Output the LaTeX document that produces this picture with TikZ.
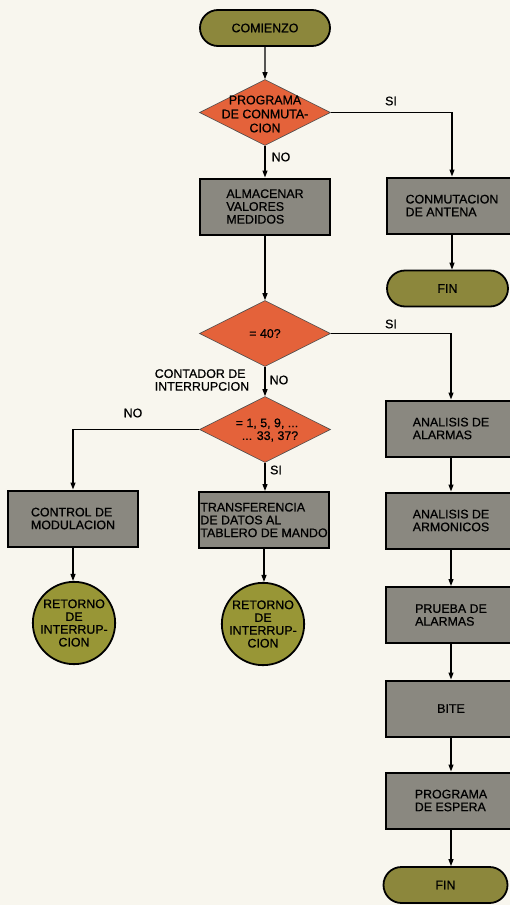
\documentclass[tikz,border=0pt]{standalone}
\usepackage{fontspec}
\setmainfont[FakeBold=0.7]{Liberation Sans}
\usetikzlibrary{arrows.meta,shapes.geometric,shapes.misc}

\definecolor{paper}{RGB}{248,246,238}
\definecolor{boxgray}{RGB}{138,136,128}
\definecolor{decorange}{RGB}{228,98,58}
\definecolor{termolive}{RGB}{140,135,60}
\definecolor{retolive}{RGB}{152,150,54}

\tikzset{
  txt/.style={font=\fontsize{12.4}{12.8}\selectfont, inner sep=0pt},
  procbox/.style={txt, rectangle, draw=black, line width=2pt, fill=boxgray,
    minimum width=130pt, minimum height=56pt, align=left},
  terminal/.style={txt, rounded rectangle, draw=black, line width=1.8pt, fill=termolive,
    minimum height=36pt, align=center},
  decision/.style={diamond, draw=black!70, line width=0.6pt, fill=decorange,
    minimum width=131pt, minimum height=66pt, inner sep=0pt},
  retcircle/.style={txt, circle, draw=black, line width=1.8pt, fill=retolive,
    minimum size=74pt, align=center},
  flow/.style={line width=1.2pt, -{Triangle[length=7pt,width=5pt]}},
  lbl/.style={txt}
}

\begin{document}
\begin{tikzpicture}[x=1pt,y=-1pt]
  \fill[paper] (0,0) rectangle (510,905);
  \useasboundingbox (0,0) rectangle (510,905);
  \clip (0,0) rectangle (510,905);

  % main column
  \node[terminal, minimum width=130pt] (start) at (265,28) {COMIENZO};
  \node[decision] (d1) at (265,112.5) {};
  \node[txt, align=center, font=\fontsize{12.4}{14}\selectfont] at (265,114) {PROGRAMA\\DE CONMUTA-\\CION};
  \node[procbox] (store) at (265,206.5) {ALMACENAR\\VALORES\\MEDIDOS};
  \node[decision] (d2) at (265,333.5) {};
  \node[txt] at (265,333.5) {= 40?};
  \node[decision] (d3) at (265,429.5) {};
  \node[txt, align=right] at (267,430) {= 1, 5, 9, ...\\... 33, 37?};
  \node[procbox] (xfer) at (264,520) {TRANSFERENCIA\\DE DATOS AL\\TABLERO DE MANDO};
  \node[retcircle] (ret2) at (263,624) {RETORNO\\DE\\INTERRUP-\\CION};

  % left branch
  \node[procbox] (modctl) at (73,518.5) {CONTROL DE\\MODULACION};
  \node[retcircle] (ret1) at (74,623) {RETORNO\\DE\\INTERRUP-\\CION};

  % antenna switching branch
  \node[procbox] (antsw) at (452,205.5) {CONMUTACION\\DE ANTENA};
  \node[terminal, minimum width=121pt] (end1) at (447.5,288.5) {FIN};

  % alarm / test branch
  \node[procbox] (alarm) at (451,428.5) {ANALISIS DE\\ALARMAS};
  \node[procbox] (harm) at (451,520.5) {ANALISIS DE\\ARMONICOS};
  \node[procbox] (test) at (451,615) {PRUEBA DE\\ALARMAS};
  \node[procbox] (bite) at (451,708.5) {BITE};
  \node[procbox] (wait) at (451,800.5) {PROGRAMA\\DE ESPERA};
  \node[terminal, minimum width=124pt] (end2) at (445.5,885) {FIN};

  % connectors
  \draw[flow] (start) -- (d1);
  \draw[flow] (d1) -- (store);
  \draw[flow] (d1.east) -| (antsw.north);
  \draw[flow] (antsw.south) -- (antsw.south |- end1.north);
  \draw[flow] (store) -- (d2);
  \draw[flow] (d2.east) -| (alarm.north);
  \draw[flow] (d2) -- (d3);
  \draw[flow] (d3.west) -| (modctl.north);
  \draw[flow] (d3.south) -- (d3.south |- xfer.north);
  \draw[flow] (xfer.south) -- (xfer.south |- ret2.north);
  \draw[flow] (modctl.south) -- (modctl.south |- ret1.north);
  \draw[flow] (alarm) -- (harm);
  \draw[flow] (harm) -- (test);
  \draw[flow] (test) -- (bite);
  \draw[flow] (bite) -- (wait);
  \draw[flow] (wait.south) -- (wait.south |- end2.north);

  % branch labels
  \node[lbl] at (391,101) {SI};
  \node[lbl] at (281,157) {NO};
  \node[lbl] at (391,324) {SI};
  \node[lbl] at (279,380) {NO};
  \node[lbl, align=left] at (202,380) {CONTADOR DE\\INTERRUPCION};
  \node[lbl] at (133,413) {NO};
  \node[lbl] at (276,470) {SI};
\end{tikzpicture}
\end{document}
